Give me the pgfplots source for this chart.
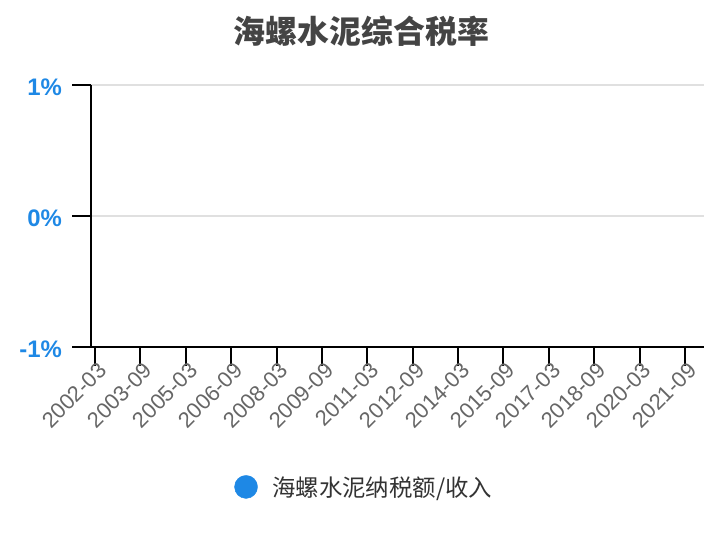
\documentclass[border=0pt]{standalone}
\usepackage{fontspec}
\setmainfont{Liberation Sans}
\newfontfamily\cjk{Noto Sans CJK SC}
\usepackage{pgfplots}
\pgfplotsset{compat=1.18}
\definecolor{taxblue}{RGB}{30,136,229}
\definecolor{titlegrey}{RGB}{68,68,68}
\definecolor{labelgrey}{RGB}{102,102,102}
\definecolor{gridgrey}{RGB}{224,224,224}

\begin{document}
\begin{tikzpicture}
\useasboundingbox (0,0) rectangle (724bp,540bp);
\begin{axis}[
    at={(91bp,193bp)}, anchor=south west,
    scale only axis,
    width=613bp, height=262bp,
    xmin=2002.0345, xmax=2022.2947,
    ymin=-1, ymax=1,
    axis x line*=bottom, axis y line*=left,
    axis line style={-, line width=2bp, black},
    xtick={2002.1667,2003.6667,2005.1667,2006.6667,2008.1667,2009.6667,2011.1667,
           2012.6667,2014.1667,2015.6667,2017.1667,2018.6667,2020.1667,2021.6667},
    xticklabels={2002-03,2003-09,2005-03,2006-09,2008-03,2009-09,2011-03,
                 2012-09,2014-03,2015-09,2017-03,2018-09,2020-03,2021-09},
    ytick={-1,0,1},
    yticklabels={-1\%,0\%,1\%},
    tick align=outside,
    major tick length=19bp,
    tick style={line width=2bp, black},
    ymajorgrids,
    grid style={line width=1.5bp, gridgrey},
    xticklabel style={rotate=45, anchor=east, inner sep=0pt,
        font=\fontsize{22}{22}\selectfont, text=labelgrey, xshift=5bp, yshift=-6bp},
    yticklabel style={inner sep=0pt, xshift=-10bp, yshift=-2bp,
        font=\fontsize{24}{24}\selectfont\bfseries, text=taxblue},
    title={\cjk\bfseries 海螺水泥综合税率},
    title style={at={(0.5,1)}, anchor=center, inner sep=0pt,
        xshift=-36bp, yshift=48bp,
        font=\fontsize{32}{32}\selectfont, text=titlegrey},
    legend style={at={(0.2335,-0.534)}, anchor=west, draw=none, fill=none,
        inner sep=0pt, font=\cjk\fontsize{23.5}{23.5}\selectfont,
        text=black!80},
    legend cell align=left,
    legend image code/.code={\fill[taxblue] (0,0) circle (11.5bp); \path (24bp,0);},
]
\addlegendimage{taxblue}
\addlegendentry{海螺水泥纳税额/收入}
\end{axis}
\end{tikzpicture}
\end{document}
